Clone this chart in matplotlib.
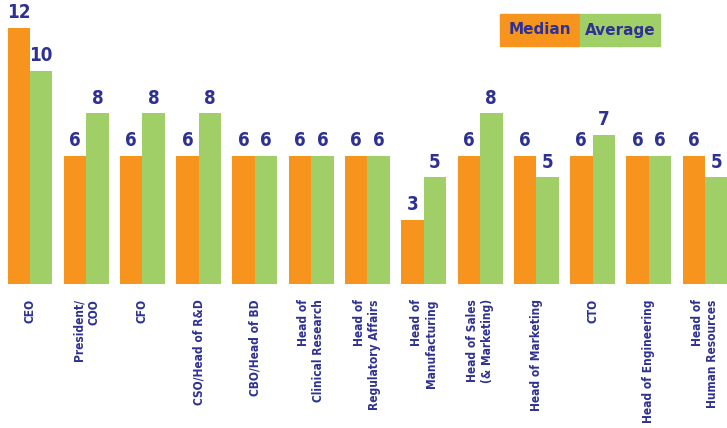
import matplotlib.pyplot as plt
from matplotlib.patches import Rectangle
import numpy as np

# Rollen und Werte (Median / Durchschnitt)
roles = ["CEO", "President/\nCOO", "CFO", "CSO/Head of R&D", "CBO/Head of BD",
         "Head of\nClinical Research", "Head of\nRegulatory Affairs",
         "Head of\nManufacturing", "Head of Sales\n(& Marketing)",
         "Head of Marketing", "CTO", "Head of Engineering",
         "Head of\nHuman Resources"]
median = [12, 6, 6, 6, 6, 6, 6, 3, 6, 6, 6, 6, 6]
average = [10, 8, 8, 8, 6, 6, 6, 5, 8, 5, 7, 6, 5]

orange = "#F7941D"
green = "#A0CF67"
navy = "#2E3192"
cond = dict(family="DejaVu Sans", stretch="condensed", weight="bold", color=navy)

fig = plt.figure(figsize=(7.27, 4.28), dpi=100)
W, H = 727, 428
ax = fig.add_axes([8 / W, (H - 284) / H, (W - 8) / W, 256 / H])

x = np.arange(len(roles))
w = 0.4
b1 = ax.bar(x - w / 2, median, w, color=orange)
b2 = ax.bar(x + w / 2, average, w, color=green)

for bars, vals in ((b1, median), (b2, average)):
    for b, v in zip(bars, vals):
        ax.annotate(str(v), (b.get_x() + b.get_width() / 2, v),
                    xytext=(0, 4), textcoords="offset points",
                    ha="center", va="bottom", fontsize=13.5, **cond)

ax.set_xlim(-0.39, len(roles) - 1 + 0.39)
ax.set_ylim(0, 12)
ax.set_xticks(x)
ax.set_xticklabels(roles, rotation=90, ha="center", va="top",
                   multialignment="right", fontsize=8.6, **cond)
ax.tick_params(axis="x", length=0, pad=11)
ax.set_yticks([])
for s in ax.spines.values():
    s.set_visible(False)

# Legende als farbige Kästchen
for x0, col, lab in ((500, orange, "Median"), (580, green, "Average")):
    fig.patches.append(Rectangle((x0 / W, (H - 46) / H), 80 / W, 32 / H,
                                 transform=fig.transFigure, color=col))
    fig.text((x0 + 40) / W, (H - 30) / H, lab, ha="center", va="center",
             fontsize=11, family="DejaVu Sans", weight="bold", color=navy)

fig.savefig("out.png", dpi=100)
